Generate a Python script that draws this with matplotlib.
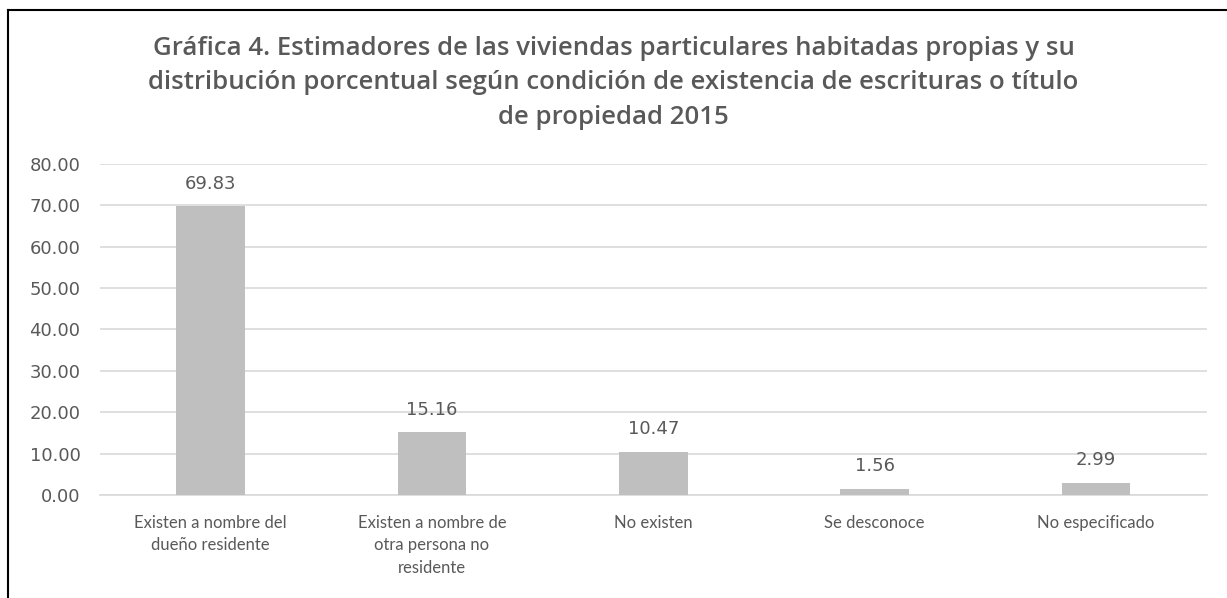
import matplotlib.pyplot as plt
from matplotlib.lines import Line2D

categorias = ['Existen a nombre del\ndueño residente',
              'Existen a nombre de\notra persona no\nresidente',
              'No existen', 'Se desconoce', 'No especificado']
valores = [69.83, 15.16, 10.47, 1.56, 2.99]
yticks = [0, 10, 20, 30, 40, 50, 60, 70, 80]

plt.rcParams['font.family'] = ['Lato', 'DejaVu Sans']
gris = '#595959'

fig = plt.figure(figsize=(12.27, 5.98), dpi=100)
ax = fig.add_axes([0.0815, 0.172, 0.902, 0.554])

x = range(len(categorias))
ax.bar(x, valores, width=0.31, color='#bfbfbf', zorder=3)
for i, v in zip(x, valores):
    ax.text(i, v + 5.4, f'{v:.2f}', ha='center', va='center', fontsize=13,
            color=gris, family='DejaVu Sans', zorder=4)

ax.set_xlim(-0.5, len(categorias) - 0.5)
ax.set_ylim(0, 80)
ax.set_yticks(yticks)
ax.set_yticklabels([f'{t:.2f}' for t in yticks], fontsize=13, color=gris, family='DejaVu Sans')
ax.set_xticks(list(x))
ax.set_xticklabels(categorias, fontsize=12, color=gris, linespacing=1.5, va='top')
ax.tick_params(axis='both', length=0)
ax.tick_params(axis='x', pad=14)
ax.tick_params(axis='y', pad=14)
ax.grid(axis='y', color='#d9d9d9', linewidth=1.2, zorder=0)
for s in ['top', 'right', 'left']:
    ax.spines[s].set_visible(False)
ax.spines['bottom'].set_color('#d9d9d9')
ax.spines['bottom'].set_linewidth(1.2)

fig.text(0.5, 0.94,
         'Gráfica 4. Estimadores de las viviendas particulares habitadas propias y su\n'
         'distribución porcentual según condición de existencia de escrituras o título\n'
         'de propiedad 2015',
         ha='center', va='top', fontsize=18.5, fontweight='semibold', color=gris,
         linespacing=1.5, family='Open Sans')

# marco
fig.add_artist(Line2D([8 / 1227, 8 / 1227], [0, 1 - 10 / 598], color='black', linewidth=1.5))
fig.add_artist(Line2D([8 / 1227, 1], [1 - 10 / 598, 1 - 10 / 598], color='black', linewidth=1.5))

fig.savefig('out.png', dpi=100)
plt.close()
